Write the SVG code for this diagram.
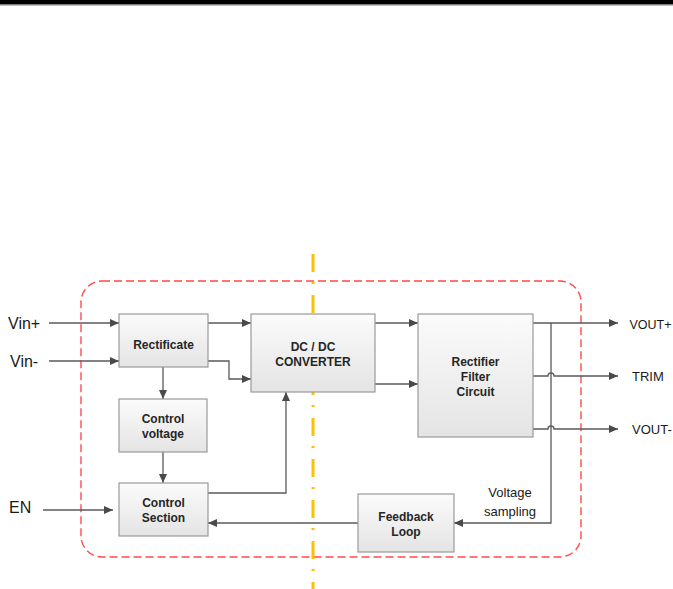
<svg xmlns="http://www.w3.org/2000/svg" width="673" height="589" viewBox="0 0 673 589">
<style>
.box{fill:url(#g);stroke:#9a9a9a;stroke-width:1.2}
.bt{font-family:"Liberation Sans",Arial,sans-serif;font-weight:bold;font-size:12px;fill:#262626;text-anchor:middle}
.lt{font-family:"Liberation Sans",Arial,sans-serif;fill:#1a1a1a}
.c{fill:none;stroke:#5a5a5a;stroke-width:1.3}
.a{marker-end:url(#ah)}
</style>
<defs>
<linearGradient id="g" x1="0" y1="0" x2="0" y2="1">
<stop offset="0" stop-color="#fbfbfb"/>
<stop offset="1" stop-color="#e4e4e4"/>
</linearGradient>
<marker id="ah" markerWidth="10" markerHeight="8" refX="9" refY="4" orient="auto" markerUnits="userSpaceOnUse">
<path d="M0,0 L9,4 L0,8 Z" fill="#4a4a4a"/>
</marker>
</defs>
<rect x="0" y="0" width="673" height="4.5" fill="#000"/>
<line x1="0" y1="5" x2="673" y2="5" stroke="#808080" stroke-width="1"/>

<rect x="81" y="281" width="500" height="276" rx="21" ry="21" fill="none" stroke="#ff4a4a" stroke-width="1.4" stroke-dasharray="8 4"/>
<line x1="313" y1="254" x2="313" y2="589" stroke="#ffc000" stroke-width="3" stroke-dasharray="18 10 2 11"/>

<g id="connectors">
<path class="c a" d="M49,323 H119"/>
<path class="c a" d="M49,361 H119"/>
<path class="c a" d="M43,510 H113"/>
<path class="c a" d="M208,323 H251"/>
<path class="c a" d="M208,361 H229 V379 H251"/>
<path class="c a" d="M163,367 V399"/>
<path class="c a" d="M163,452 V483"/>
<path class="c a" d="M208,493 H286 V392"/>
<path class="c a" d="M375,323 H418"/>
<path class="c a" d="M375,384 H418"/>
<path class="c a" d="M533,323 H618"/>
<path class="c a" d="M533,376 H548 A3,3 0 0 1 554,376 H618"/>
<path class="c a" d="M533,429 H548 A3,3 0 0 1 554,429 H618"/>
<path class="c a" d="M551,323 V523 H454"/>
<path class="c a" d="M358,523 H208"/>
</g>

<g id="rectificate">
<rect class="box" x="119" y="314" width="89" height="53"/>
<text class="bt" x="163.5" y="349">Rectificate</text>
</g>
<g id="dcdc">
<rect class="box" x="251" y="314" width="124" height="78"/>
<text class="bt" x="313" y="351" font-size="12.5">DC / DC</text>
<text class="bt" x="313" y="365.5" font-size="12.5">CONVERTER</text>
</g>
<g id="rectifier">
<rect class="box" x="418" y="314" width="115" height="123"/>
<text class="bt" x="475.5" y="365.5">Rectifier</text>
<text class="bt" x="475.5" y="380.5">Filter</text>
<text class="bt" x="475.5" y="395.5">Circuit</text>
</g>
<g id="controlvoltage">
<rect class="box" x="119" y="399" width="88" height="53"/>
<text class="bt" x="163" y="422.5">Control</text>
<text class="bt" x="163" y="437.5">voltage</text>
</g>
<g id="controlsection">
<rect class="box" x="119" y="483" width="89" height="53"/>
<text class="bt" x="163.5" y="506.5">Control</text>
<text class="bt" x="163.5" y="521.5">Section</text>
</g>
<g id="feedback">
<rect class="box" x="358" y="494" width="96" height="58"/>
<text class="bt" x="406" y="520.5">Feedback</text>
<text class="bt" x="406" y="535.5">Loop</text>
</g>

<g id="labels">
<text class="lt" x="8" y="329" font-size="16">Vin+</text>
<text class="lt" x="10" y="367" font-size="16">Vin-</text>
<text class="lt" x="9" y="513" font-size="16">EN</text>
<text class="lt" x="629.5" y="328.5" font-size="12.5">VOUT+</text>
<text class="lt" x="632" y="381" font-size="13">TRIM</text>
<text class="lt" x="632" y="434" font-size="13">VOUT-</text>
<text class="lt" x="510" y="496.5" font-size="13" text-anchor="middle">Voltage</text>
<text class="lt" x="510" y="515.5" font-size="13" text-anchor="middle">sampling</text>
</g>
</svg>
